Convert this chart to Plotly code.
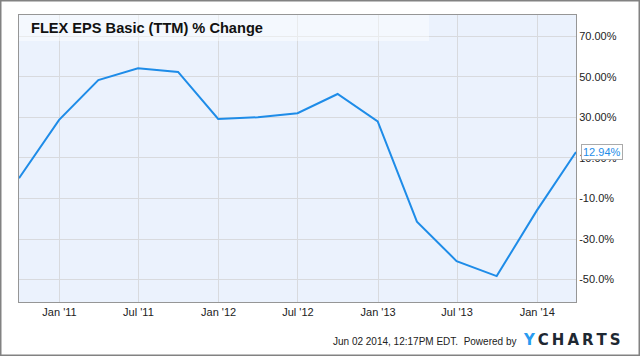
import plotly.graph_objects as go

# ---- data ----
dates = ["2010-09-30", "2010-12-31", "2011-03-31", "2011-06-30", "2011-09-30",
         "2011-12-31", "2012-03-31", "2012-06-30", "2012-09-30", "2012-12-31",
         "2013-03-31", "2013-06-30", "2013-09-30", "2013-12-31", "2014-03-31"]
eps_change = [0.0, 28.8, 48.5, 54.3, 52.5, 29.3, 30.1, 32.1, 41.6, 28.1,
              -21.4, -40.9, -48.3, -16.0, 12.94]

x_tick_vals = ["2011-01-01", "2011-07-01", "2012-01-01", "2012-07-01",
               "2013-01-01", "2013-07-01", "2014-01-01"]
x_tick_text = ["Jan '11", "Jul '11", "Jan '12", "Jul '12", "Jan '13", "Jul '13", "Jan '14"]
y_tick_vals = [70, 50, 30, 10, -10, -30, -50]
y_tick_text = ["70.00%", "50.00%", "30.00%", "10.00%", "-10.0%", "-30.0%", "-50.0%"]

title_text = "FLEX EPS Basic (TTM) % Change"
footer_text = "Jun 02 2014, 12:17PM EDT.  Powered by"
last_label = "12.94%"

# ---- layout geometry ----
W, H = 640, 356
L, R, T, B = 19, 64, 15, 54
PW, PH = W - L - R, H - T - B

def px(x):
    return (x - L) / PW

def py(y):
    return (H - B - y) / PH

LINE = "rgb(30,140,232)"
FONT = "Liberation Sans, Arial, sans-serif"

fig = go.Figure()
fig.add_trace(go.Scatter(x=dates, y=eps_change, mode="lines",
                         line=dict(color=LINE, width=2), hoverinfo="skip"))

fig.update_layout(
    width=W, height=H,
    margin=dict(l=L, r=R, t=T, b=B),
    paper_bgcolor="white",
    plot_bgcolor="rgb(235,242,253)",
    showlegend=False,
    font=dict(family=FONT, size=11, color="#222"),
    xaxis=dict(
        range=["2010-09-30", "2014-03-31"],
        tickvals=x_tick_vals, ticktext=x_tick_text,
        showgrid=True, gridcolor="rgb(216,218,222)", gridwidth=1,
        showline=True, linecolor="rgb(150,150,150)", linewidth=1, mirror=True,
        ticks="", zeroline=False,
        tickfont=dict(family=FONT, size=11, color="#222"),
    ),
    yaxis=dict(
        range=[-61.1, 80.6], side="right",
        tickvals=y_tick_vals, ticktext=y_tick_text,
        showgrid=True, gridcolor="rgb(216,218,222)", gridwidth=1,
        showline=True, linecolor="rgb(150,150,150)", linewidth=1, mirror=True,
        ticks="", zeroline=False,
        tickfont=dict(family=FONT, size=11, color="#222"),
    ),
)

shapes = [
    # outer frame
    dict(type="rect", xref="paper", yref="paper",
         x0=px(0.5), x1=px(W - 0.5), y0=py(H - 0.5), y1=py(0.5),
         line=dict(color="rgb(130,130,130)", width=2), fillcolor="rgba(0,0,0,0)", layer="above"),
    # title background
    dict(type="rect", xref="paper", yref="paper",
         x0=px(L), x1=px(429), y0=py(41), y1=py(T),
         line=dict(width=0), fillcolor="rgba(255,255,255,0.45)", layer="above"),
]
fig.update_layout(shapes=shapes)

ann = [
    dict(text="<b>" + title_text + "</b>", xref="paper", yref="paper",
         x=px(29), y=py(28), xanchor="left", yanchor="middle", showarrow=False,
         font=dict(family=FONT, size=14.6, color="#111")),
    dict(text=last_label, xref="paper", yref="y",
         x=px(581), y=eps_change[-1], xanchor="left", yanchor="middle", showarrow=False,
         bgcolor="white", bordercolor="rgb(170,170,170)", borderwidth=1, borderpad=1,
         font=dict(family=FONT, size=11, color=LINE)),
    dict(text=footer_text, xref="paper", yref="paper",
         x=px(518), y=py(341), xanchor="right", yanchor="middle", showarrow=False,
         font=dict(family=FONT, size=10, color="#222")),
    dict(text="<span style='color:rgb(40,155,240)'>Y</span>\u2009C\u2009H\u2009A\u2009R\u2009T\u2009S",
         xref="paper", yref="paper",
         x=px(521), y=py(340), xanchor="left", yanchor="middle", showarrow=False,
         font=dict(family="DejaVu Sans, sans-serif", size=15, color="rgb(30,40,50)", weight="bold")),
]
fig.update_layout(annotations=ann)

fig.write_html("out.html", config={"displayModeBar": False},
               post_script="document.body.style.margin='0';document.body.style.overflow='hidden';")
